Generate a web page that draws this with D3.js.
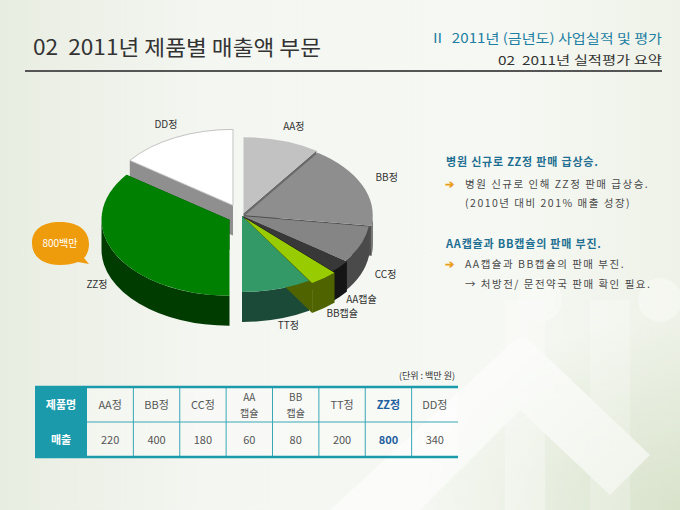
<!DOCTYPE html>
<html>
<head>
<meta charset="utf-8">
<script src="https://cdn.jsdelivr.net/npm/d3@7"></script>
<style>
  html, body { margin: 0; padding: 0; background: #fff; }
  svg { display: block; font-family: "Noto Sans CJK KR", "Noto Sans", sans-serif; }
</style>
</head>
<body>
<div id="chart"></div>
<script>
/* DATA */
const products = ["AA정", "BB정", "CC정", "AA캡슐", "BB캡슐", "TT정", "ZZ정", "DD정"];
const sales = [220, 400, 180, 60, 80, 200, 800, 340];
const tableHeads = ["AA정", "BB정", "CC정", "AA|캡슐", "BB|캡슐", "TT정", "ZZ정", "DD정"];
const highlight = "ZZ정";
const calloutText = "800백만";
const unitText = "(단위 : 백만 원)";

/* STYLES */
const topColors  = ["#c2c2c2", "#8e8e8e", "#858585", "#383838", "#99cc00", "#339966", "#008000", "#ffffff"];
const sideColors = ["#6a6a6a", "#505050", "#4a4a4a", "#151515", "#4f6400", "#1c4a38", "#003c00", "#8f8f8f"];
const explode    = [5, 3, 0, 2, 5, 0, 14, 20];

const width = 680, height = 510;
const pieC = {x: 242, y: 216, rx: 128, ry: 76, depth: 30};
const ratio = pieC.ry / pieC.rx;

const svg = d3.select("#chart").append("svg")
  .attr("width", width)
  .attr("height", height);

// BACKGROUND ====================================
const defs = svg.append("defs");
const bg = defs.append("linearGradient").attr("id", "bg")
  .attr("x1", "0%").attr("x2", "100%").attr("y1", "0%").attr("y2", "0%");
bg.append("stop").attr("offset", "0%").attr("stop-color", "#e8ede1");
bg.append("stop").attr("offset", "30%").attr("stop-color", "#f4f6f1");
bg.append("stop").attr("offset", "75%").attr("stop-color", "#f6f8f3");
bg.append("stop").attr("offset", "100%").attr("stop-color", "#eef2e8");
svg.append("rect").attr("width", width).attr("height", height).attr("fill", "url(#bg)");

const corner = defs.append("radialGradient").attr("id", "corner")
  .attr("cx", "100%").attr("cy", "100%").attr("r", "38%");
corner.append("stop").attr("offset", "0%").attr("stop-color", "#d3dfc4").attr("stop-opacity", 0.8);
corner.append("stop").attr("offset", "100%").attr("stop-color", "#d3dfc4").attr("stop-opacity", 0);
svg.append("rect").attr("width", width).attr("height", height).attr("fill", "url(#corner)");

// faint white chevrons bottom right
const deco = svg.append("g").attr("fill", "#ffffff").attr("opacity", 0.6);
deco.append("path").attr("d", "M330,510 L515,340 Q522,334 529,340 L650,455 L610,495 L520,410 L420,510 Z");
deco.append("rect").attr("x", 505).attr("y", 300).attr("width", 40).attr("height", 210).attr("opacity", 0.5);
deco.append("rect").attr("x", 590).attr("y", 300).attr("width", 40).attr("height", 210).attr("opacity", 0.4);
deco.append("circle").attr("cx", 540).attr("cy", 300).attr("r", 22).attr("opacity", 0.6);
deco.append("circle").attr("cx", 660).attr("cy", 300).attr("r", 22).attr("opacity", 0.6);

// HEADER ========================================
svg.append("text")
  .attr("x", 33).attr("y", 55)
  .attr("fill", "#333")
  .style("font-size", "21px")
  .style("white-space", "pre")
  .attr("textLength", 288).attr("lengthAdjust", "spacingAndGlyphs")
  .text("02  2011년 제품별 매출액 부문");

svg.append("text")
  .attr("x", 662).attr("y", 43)
  .attr("text-anchor", "end")
  .attr("fill", "#1d7fa3")
  .style("font-size", "13px")
  .style("white-space", "pre")
  .attr("textLength", 232).attr("lengthAdjust", "spacingAndGlyphs")
  .text("Ⅱ  2011년 (금년도) 사업실적 및 평가");

svg.append("text")
  .attr("x", 662).attr("y", 65)
  .attr("text-anchor", "end")
  .attr("fill", "#333")
  .style("font-size", "12px")
  .style("white-space", "pre")
  .attr("textLength", 164).attr("lengthAdjust", "spacingAndGlyphs")
  .text("02  2011년 실적평가 요약");

svg.append("line")
  .attr("x1", 25).attr("x2", 662).attr("y1", 71).attr("y2", 71)
  .attr("stroke", "#555").attr("stroke-width", 2);

// 3D PIE ========================================
const pie = d3.pie().sort(null).value(d => d)(sales);

const px = (a, r, o) => pieC.x + o.x + r * Math.sin(a);
const py = (a, r, o, dz = 0) => pieC.y + o.y - r * ratio * Math.cos(a) + dz;

const slices = pie.map((p, i) => {
  const mid = (p.startAngle + p.endAngle) / 2;
  return {
    ...p, i, mid,
    o: {x: explode[i] * Math.sin(mid), y: -explode[i] * ratio * Math.cos(mid)}
  };
});

function topPath(s) {
  const {rx, ry} = pieC;
  const large = s.endAngle - s.startAngle > Math.PI ? 1 : 0;
  return `M${px(0, 0, s.o)},${py(0, 0, s.o)}` +
    `L${px(s.startAngle, rx, s.o)},${py(s.startAngle, rx, s.o)}` +
    `A${rx},${ry} 0 ${large} 1 ${px(s.endAngle, rx, s.o)},${py(s.endAngle, rx, s.o)}Z`;
}

function outerWall(s) {
  const {rx, ry, depth} = pieC;
  const a = Math.max(s.startAngle, Math.PI / 2);
  const b = Math.min(s.endAngle, Math.PI * 1.5);
  if (a >= b) return null;
  const large = b - a > Math.PI ? 1 : 0;
  return `M${px(a, rx, s.o)},${py(a, rx, s.o)}` +
    `A${rx},${ry} 0 ${large} 1 ${px(b, rx, s.o)},${py(b, rx, s.o)}` +
    `L${px(b, rx, s.o)},${py(b, rx, s.o, depth)}` +
    `A${rx},${ry} 0 ${large} 0 ${px(a, rx, s.o)},${py(a, rx, s.o, depth)}Z`;
}

function radialWall(s, a) {
  const {rx, depth} = pieC;
  return `M${px(a, 0, s.o)},${py(a, 0, s.o)}` +
    `L${px(a, rx, s.o)},${py(a, rx, s.o)}` +
    `L${px(a, rx, s.o)},${py(a, rx, s.o, depth)}` +
    `L${px(a, 0, s.o)},${py(a, 0, s.o, depth)}Z`;
}

const pieG = svg.append("g");

// walls, back to front
const byDepth = slices.slice().sort((a, b) =>
  (a.o.y - Math.cos(a.mid)) - (b.o.y - Math.cos(b.mid)));

byDepth.forEach(s => {
  const g = pieG.append("g").attr("fill", sideColors[s.i]);
  g.append("path").attr("d", radialWall(s, s.startAngle));
  g.append("path").attr("d", radialWall(s, s.endAngle));
  const ow = outerWall(s);
  if (ow) g.append("path").attr("d", ow);
});

// top faces
pieG.selectAll(".top")
  .data(slices)
  .join("path")
    .attr("class", "top")
    .attr("d", topPath)
    .attr("fill", d => topColors[d.i])
    .attr("stroke", d => d.i === 7 ? "#b5b5b5" : "none")
    .attr("stroke-width", 0.8);

// slice labels
const lblX = d => px(d.mid, pieC.rx * 1.16, d.o) + (Math.sin(d.mid) > 0 ? 6 : 0);
const lblY = d => py(d.mid, pieC.rx * 1.16, d.o,
  Math.cos(d.mid) < 0 ? pieC.depth * 0.82 : -3) + 4;

pieG.selectAll(".lbl")
  .data(slices)
  .join("text")
    .attr("class", "lbl")
    .attr("text-anchor", "middle")
    .attr("fill", "#333")
    .style("font-size", "10px")
    .attr("x", lblX)
    .attr("y", lblY)
    .text(d => products[d.i]);

// callout bubble
const bub = svg.append("g");
bub.append("path")
  .attr("d", "M60,222 C80,222 89,232 89,244 C89,250 87,255 84,258 L89,264 L78,262 C73,264 67,265 60,265 C42,265 32,256 32,243 C32,230 42,222 60,222 Z")
  .attr("fill", "#ef9c0c");
bub.append("text")
  .attr("x", 60).attr("y", 247)
  .attr("text-anchor", "middle")
  .attr("fill", "#fff")
  .style("font-size", "10px")
  .text(calloutText);

// RIGHT NOTES ===================================
const notes = svg.append("g").style("font-size", "10.5px");
const noteTitle = (y, t) => notes.append("text")
  .attr("x", 446).attr("y", y).attr("fill", "#1f6f92")
  .style("font-weight", "bold").style("font-size", "11px")
  .style("letter-spacing", "0.8px").text(t);
const noteLine = (y, t, arrow) => {
  if (arrow) notes.append("text").attr("x", 445).attr("y", y)
    .attr("fill", "#e9a020").style("font-weight", "bold").text("➔");
  notes.append("text").attr("x", 465).attr("y", y)
    .attr("fill", "#4a4a4a").style("letter-spacing", "1.5px").text(t);
};
noteTitle(166, "병원 신규로 ZZ정 판매 급상승.");
noteLine(188, "병원 신규로 인해 ZZ정 판매 급상승.", true);
noteLine(207, "(2010년 대비 201% 매출 성장)", false);
noteTitle(248, "AA캡슐과 BB캡슐의 판매 부진.");
noteLine(268, "AA캡슐과 BB캡슐의 판매 부진.", true);
noteLine(288, "→ 처방전/ 문전약국 판매 확인 필요.", false);

// TABLE =========================================
const tab = {x0: 35, x1: 458, top: 387, mid: 422, bottom: 457, headW: 52};
const colX = d3.scaleBand()
  .domain(products)
  .range([tab.x0 + tab.headW, tab.x1]);

const tg = svg.append("g");
tg.append("rect").attr("x", tab.x0).attr("y", tab.top)
  .attr("width", tab.x1 - tab.x0).attr("height", tab.bottom - tab.top)
  .attr("fill", "#ffffff").attr("opacity", 0.35);
tg.append("rect").attr("x", tab.x0).attr("y", tab.top)
  .attr("width", tab.headW).attr("height", tab.bottom - tab.top)
  .attr("fill", "#1b9aab");

tg.append("line").attr("x1", tab.x0 + tab.headW).attr("x2", tab.x1)
  .attr("y1", tab.mid).attr("y2", tab.mid)
  .attr("stroke", "#39a7b6").attr("stroke-width", 1);
tg.selectAll(".vline")
  .data(products.slice(1))
  .join("line")
    .attr("class", "vline")
    .attr("x1", d => colX(d)).attr("x2", d => colX(d))
    .attr("y1", tab.top).attr("y2", tab.bottom)
    .attr("stroke", "#39a7b6").attr("stroke-width", 1);
[tab.top, tab.bottom].forEach(y => tg.append("line")
  .attr("x1", tab.x0).attr("x2", tab.x1).attr("y1", y).attr("y2", y)
  .attr("stroke", "#1b9aab").attr("stroke-width", 2.5));

tg.append("text").attr("x", tab.x0 + tab.headW / 2).attr("y", (tab.top + tab.mid) / 2 + 4)
  .attr("text-anchor", "middle").attr("fill", "#fff")
  .style("font-size", "11px").style("font-weight", "bold").text("제품명");
tg.append("text").attr("x", tab.x0 + tab.headW / 2).attr("y", (tab.mid + tab.bottom) / 2 + 4)
  .attr("text-anchor", "middle").attr("fill", "#fff")
  .style("font-size", "11px").style("font-weight", "bold").text("매출");

// header cells: one text per line so two-line names stay apart
const headLines = products.flatMap((d, i) => {
  const parts = tableHeads[i].split("|");
  return parts.map((p, j) => ({name: d, text: p, j, n: parts.length}));
});

tg.selectAll(".head")
  .data(headLines)
  .join("text")
    .attr("class", "head")
    .attr("text-anchor", "middle")
    .attr("x", d => colX(d.name) + colX.bandwidth() / 2)
    .attr("y", d => (tab.top + tab.mid) / 2 + 4 + (d.j - (d.n - 1) / 2) * 16)
    .attr("fill", d => d.name === highlight ? "#1f5f9e" : "#555")
    .style("font-weight", d => d.name === highlight ? "bold" : "normal")
    .style("font-size", d => d.n > 1 ? "10px" : "11px")
    .text(d => d.text);

tg.selectAll(".val")
  .data(products)
  .join("text")
    .attr("class", "val")
    .attr("text-anchor", "middle")
    .attr("x", d => colX(d) + colX.bandwidth() / 2)
    .attr("y", (tab.mid + tab.bottom) / 2 + 4)
    .attr("fill", d => d === highlight ? "#1f5f9e" : "#555")
    .style("font-weight", d => d === highlight ? "bold" : "normal")
    .style("font-size", "11px")
    .text((d, i) => sales[i]);

svg.append("text")
  .attr("x", 455).attr("y", 379)
  .attr("text-anchor", "end")
  .attr("fill", "#333")
  .style("font-size", "9px")
  .style("white-space", "pre")
  .text(unitText);
</script>
</body>
</html>
